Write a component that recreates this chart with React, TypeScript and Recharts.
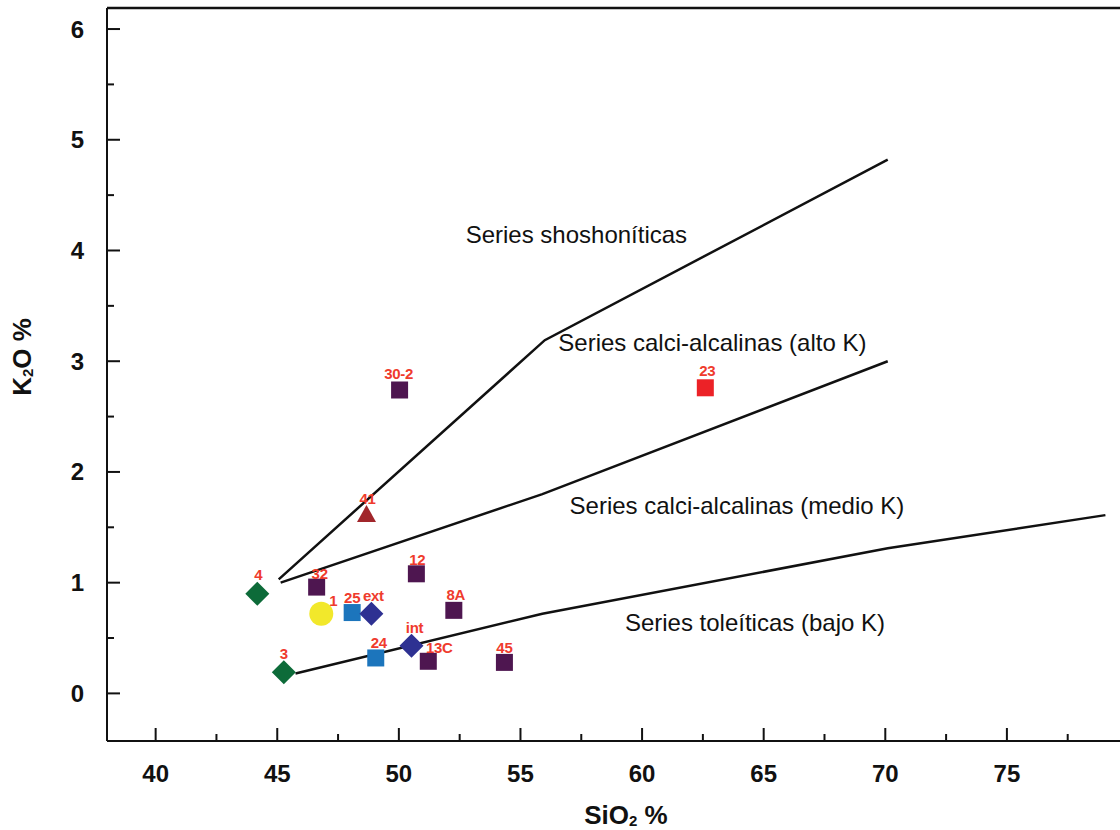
// K2O vs SiO2 classification diagram (series boundaries + samples)
import { ComposedChart, Line, Scatter, XAxis, YAxis, Label, ReferenceLine } from "recharts";

// --- samples ---
const sampleIds = ["4", "3", "32", "1", "25", "ext", "24", "int", "13C", "12", "8A", "45", "30-2", "23", "41"];
const sio2 = [44.18, 45.27, 46.62, 46.81, 48.08, 48.87, 49.05, 50.52, 51.21, 50.72, 52.26, 54.34, 50.03, 62.6, 48.67];
const k2o = [0.9, 0.19, 0.96, 0.72, 0.73, 0.72, 0.32, 0.43, 0.29, 1.08, 0.75, 0.28, 2.74, 2.76, 1.62];
const markerKinds = [
  "greenDiamond", "greenDiamond", "purpleSquare", "yellowCircle", "blueSquare",
  "navyDiamond", "blueSquare", "navyDiamond", "purpleSquare", "purpleSquare",
  "purpleSquare", "purpleSquare", "purpleSquare", "redSquare", "redTriangle",
];

// --- series boundaries ---
const shoshoSio2 = [45.06, 56.0, 70.1];
const shoshoK2o = [1.03, 3.19, 4.82];
const highKSio2 = [45.14, 55.9, 70.1];
const highKK2o = [1.0, 1.8, 3.0];
const lowKSio2 = [45.75, 55.9, 70.1, 79.05];
const lowKK2o = [0.18, 0.72, 1.31, 1.61];

// --- field names ---
const fieldNames = [
  "Series shoshoníticas",
  "Series calci-alcalinas (alto K)",
  "Series calci-alcalinas (medio K)",
  "Series toleíticas (bajo K)",
];
const fieldSio2 = [57.3, 62.89, 63.9, 64.64];
const fieldK2o = [4.14, 3.17, 1.7, 0.644];

// --- ticks ---
const xTicks = [40, 42.5, 45, 47.5, 50, 52.5, 55, 57.5, 60, 62.5, 65, 67.5, 70, 72.5, 75, 77.5];
const yTicks = [0, 0.5, 1, 1.5, 2, 2.5, 3, 3.5, 4, 4.5, 5, 5.5, 6];

const X_DOMAIN: [number, number] = [38, 79.65];
const Y_DOMAIN: [number, number] = [-0.43, 6.19];

const MARKERS: Record<string, { color: string; shape: string }> = {
  greenDiamond: { color: "#0d6b39", shape: "diamond" },
  navyDiamond: { color: "#2e3192", shape: "diamond" },
  purpleSquare: { color: "#4e1650", shape: "square" },
  blueSquare: { color: "#1c75bc", shape: "square" },
  redSquare: { color: "#ec2227", shape: "square" },
  yellowCircle: { color: "#f2e82b", shape: "circle" },
  redTriangle: { color: "#a1262b", shape: "triangle" },
};

// label offsets (text centre relative to marker centre)
const LABEL_OFFSETS: Record<string, [number, number]> = {
  "1": [12, -13],
  ext: [2, -18],
  int: [3, -18],
  "13C": [11, -14],
  "4": [1, -19],
  "3": [0, -19],
  "32": [3, -14],
  "24": [3, -15],
  "12": [1, -14],
  "8A": [2, -16],
  "30-2": [-1, -17],
  "23": [2, -17],
  "41": [1, -16],
};

const LABEL_RED = "#ef3b2d";
const FONT = "'Liberation Sans', Arial, sans-serif";

const toPoints = (xs: number[], ys: number[]) => xs.map((x, i) => ({ x, y: ys[i] }));

const samples = sampleIds.map((id, i) => ({ id, x: sio2[i], y: k2o[i], kind: markerKinds[i] }));
const fields = fieldNames.map((name, i) => ({ name, x: fieldSio2[i], y: fieldK2o[i] }));

const SampleShape = (props: any) => {
  const { cx, cy, payload } = props;
  if (cx == null || cy == null) return <g />;
  const m = MARKERS[payload.kind];
  const [dx, dy] = LABEL_OFFSETS[payload.id] ?? [0, -15];
  let mark;
  if (m.shape === "square") {
    mark = <rect x={cx - 8.5} y={cy - 8.5} width={17} height={17} fill={m.color} />;
  } else if (m.shape === "diamond") {
    mark = (
      <polygon
        points={`${cx},${cy - 12} ${cx + 12},${cy} ${cx},${cy + 12} ${cx - 12},${cy}`}
        fill={m.color}
      />
    );
  } else if (m.shape === "circle") {
    mark = <circle cx={cx} cy={cy} r={12} fill={m.color} />;
  } else {
    mark = (
      <polygon
        points={`${cx},${cy - 9} ${cx + 9.5},${cy + 8} ${cx - 9.5},${cy + 8}`}
        fill={m.color}
      />
    );
  }
  return (
    <g>
      {mark}
      <text
        x={cx + dx}
        y={cy + dy + 5.5}
        textAnchor="middle"
        fill={LABEL_RED}
        fontFamily={FONT}
        fontWeight="bold"
        fontSize={15}
        letterSpacing={-0.3}
      >
        {payload.id}
      </text>
    </g>
  );
};

const FieldText = (props: any) => {
  const { cx, cy, payload } = props;
  if (cx == null || cy == null) return <g />;
  return (
    <text x={cx} y={cy + 8.5} textAnchor="middle" fill="#111" fontFamily={FONT} fontSize={24}>
      {payload.name}
    </text>
  );
};

const XTick = (props: any) => {
  const { x, y, payload } = props;
  const major = payload.value % 5 === 0;
  return (
    <g>
      <line x1={x} y1={y} x2={x} y2={y - (major ? 13 : 7)} stroke="#111" strokeWidth={2} />
      {major && (
        <text
          x={x}
          y={y + 41}
          textAnchor="middle"
          fill="#111"
          fontFamily={FONT}
          fontWeight="bold"
          fontSize={24}
        >
          {payload.value}
        </text>
      )}
    </g>
  );
};

const YTick = (props: any) => {
  const { x, y, payload } = props;
  const major = payload.value % 1 === 0;
  return (
    <g>
      <line x1={x} y1={y} x2={x + (major ? 13 : 7)} y2={y} stroke="#111" strokeWidth={2} />
      {major && (
        <text
          x={x - 23}
          y={y + 8.5}
          textAnchor="end"
          fill="#111"
          fontFamily={FONT}
          fontWeight="bold"
          fontSize={24}
        >
          {payload.value}
        </text>
      )}
    </g>
  );
};

const boundaryStyle = { stroke: "#111", strokeWidth: 2.5 };

export default function App() {
  return (
    <div style={{ position: "fixed", left: 0, top: 0, width: 1120, height: 830, background: "#fff" }}>
      <ComposedChart width={1120} height={830} margin={{ top: 8, right: 0, bottom: 0, left: 0 }}>
        <XAxis
          type="number"
          dataKey="x"
          domain={X_DOMAIN}
          allowDataOverflow
          ticks={xTicks}
          interval={0}
          height={89}
          tickSize={0}
          tickMargin={0}
          tickLine={false}
          tick={<XTick />}
          axisLine={{ stroke: "#111", strokeWidth: 2 }}
        >
          <Label
            content={() => (
              <text x={626} y={824} textAnchor="middle" fill="#111" fontFamily={FONT} fontWeight="bold" fontSize={26}>
                SiO
                <tspan fontSize={15} dy={2}>2</tspan>
                <tspan dy={-2}> %</tspan>
              </text>
            )}
          />
        </XAxis>
        <YAxis
          type="number"
          dataKey="y"
          domain={Y_DOMAIN}
          allowDataOverflow
          ticks={yTicks}
          interval={0}
          width={107}
          tickSize={0}
          tickMargin={0}
          tickLine={false}
          tick={<YTick />}
          axisLine={{ stroke: "#111", strokeWidth: 2 }}
        >
          <Label
            content={() => (
              <text
                x={31}
                y={357}
                transform="rotate(-90, 31, 357)"
                textAnchor="middle"
                fill="#111"
                fontFamily={FONT}
                fontWeight="bold"
                fontSize={26}
              >
                K
                <tspan fontSize={15} dy={2}>2</tspan>
                <tspan dy={-2}>O %</tspan>
              </text>
            )}
          />
        </YAxis>

        {/* top frame line */}
        <ReferenceLine y={Y_DOMAIN[1]} stroke="#111" strokeWidth={2.5} />

        <Line data={toPoints(shoshoSio2, shoshoK2o)} dataKey="y" type="linear" dot={false} {...boundaryStyle} isAnimationActive={false} />
        <Line data={toPoints(highKSio2, highKK2o)} dataKey="y" type="linear" dot={false} {...boundaryStyle} isAnimationActive={false} />
        <Line data={toPoints(lowKSio2, lowKK2o)} dataKey="y" type="linear" dot={false} {...boundaryStyle} isAnimationActive={false} />

        <Scatter data={fields} dataKey="y" shape={<FieldText />} isAnimationActive={false} />
        <Scatter data={samples} dataKey="y" shape={<SampleShape />} isAnimationActive={false} />
      </ComposedChart>
    </div>
  );
}
